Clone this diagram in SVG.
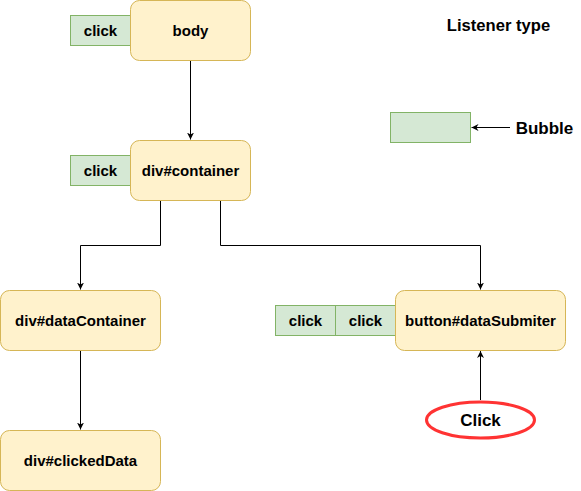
<svg xmlns="http://www.w3.org/2000/svg" width="581" height="491" viewBox="0 0 581 491">
  <style>
    text { font-family: "Liberation Sans", Arial, sans-serif; font-weight: bold; fill: #000; text-anchor: middle; dominant-baseline: central; }
    .node { fill: #fff2cc; stroke: #d6b656; stroke-width: 1; }
    .listener { fill: #d5e8d4; stroke: #82b366; stroke-width: 1; }
    .edge { fill: none; stroke: #000; stroke-width: 1; }
    .lbl { font-size: 15px; }
  </style>
  <defs>
    <marker id="arrow" viewBox="0 0 10 10" refX="10" refY="5" markerWidth="7" markerHeight="7" orient="auto" markerUnits="userSpaceOnUse">
      <path d="M0,0 L10,5 L0,10 L3,5 Z" fill="#000"/>
    </marker>
  </defs>

  <g id="edges">
    <path class="edge" d="M190.5,60.5 V139.5" marker-end="url(#arrow)"/>
    <path class="edge" d="M160.5,200.5 V245.5 H80.5 V289.5" marker-end="url(#arrow)"/>
    <path class="edge" d="M220.5,200.5 V245.5 H480.5 V289.5" marker-end="url(#arrow)"/>
    <path class="edge" d="M80.5,350.5 V429.5" marker-end="url(#arrow)"/>
    <path class="edge" d="M480.5,400 V351" marker-end="url(#arrow)"/>
    <path class="edge" d="M510,127.5 H471.5" marker-end="url(#arrow)"/>
  </g>

  <g id="body">
    <rect class="listener" x="70.5" y="15.5" width="60" height="30"/>
    <text class="lbl" x="100.5" y="30.5">click</text>
    <rect class="node" x="130.5" y="0.5" width="120" height="60" rx="9"/>
    <text class="lbl" x="190.5" y="30.5">body</text>
  </g>

  <g id="container">
    <rect class="listener" x="70.5" y="155.5" width="60" height="30"/>
    <text class="lbl" x="100.5" y="170.5">click</text>
    <rect class="node" x="130.5" y="140.5" width="120" height="60" rx="9"/>
    <text class="lbl" x="190.5" y="170.5">div#container</text>
  </g>

  <g id="dataContainer">
    <rect class="node" x="0.5" y="290.5" width="160" height="60" rx="9"/>
    <text class="lbl" x="80.5" y="320.5">div#dataContainer</text>
  </g>

  <g id="clickedData">
    <rect class="node" x="0.5" y="430.5" width="160" height="60" rx="9"/>
    <text class="lbl" x="80.5" y="460.5">div#clickedData</text>
  </g>

  <g id="dataSubmiter">
    <rect class="listener" x="275.5" y="305.5" width="60" height="30"/>
    <text class="lbl" x="305.5" y="320.5">click</text>
    <rect class="listener" x="335.5" y="305.5" width="60" height="30"/>
    <text class="lbl" x="365.5" y="320.5">click</text>
    <rect class="node" x="395.5" y="290.5" width="170" height="60" rx="9"/>
    <text class="lbl" x="480.5" y="320.5">button#dataSubmiter</text>
  </g>

  <g id="clickEvent">
    <ellipse cx="480.5" cy="420" rx="54" ry="18" fill="#fff" stroke="#f33" stroke-width="3"/>
    <text x="480.5" y="420" font-size="17">Click</text>
  </g>

  <g id="legend">
    <text x="498.5" y="25" font-size="16.6">Listener type</text>
    <rect class="listener" x="390.5" y="112.5" width="80" height="30"/>
    <text x="544.5" y="128" font-size="17">Bubble</text>
  </g>
</svg>
